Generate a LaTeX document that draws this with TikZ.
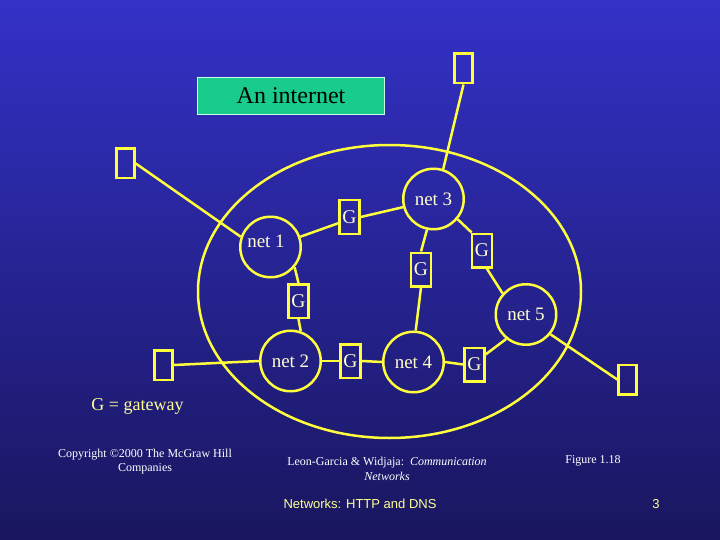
\documentclass[tikz,border=0pt]{standalone}
\usepackage{fontspec}
\setmainfont{Liberation Serif}
\newfontfamily\sansf{Liberation Sans}
\definecolor{bgtop}{RGB}{52,49,200}
\definecolor{bgmid}{RGB}{44,40,163}
\definecolor{bgbot}{RGB}{25,22,94}
\definecolor{ylw}{RGB}{255,255,60}
\definecolor{lbl}{RGB}{255,255,205}
\definecolor{paleylw}{RGB}{255,255,150}
\definecolor{titlegreen}{RGB}{25,204,140}
\definecolor{titleborder}{RGB}{200,255,230}
\begin{document}
\begin{tikzpicture}[x=1pt,y=-1pt,
  net/.style={circle, draw=ylw, line width=2.5pt, minimum size=60.5pt, inner sep=0pt,
    text=lbl, font=\fontsize{19}{22}\selectfont},
  gw/.style={rectangle, draw=ylw, line width=2.5pt, minimum width=20pt, minimum height=33.5pt,
    inner sep=0pt, text=lbl, font=\fontsize{19.5}{22}\selectfont},
  host/.style={rectangle, draw=ylw, line width=2.5pt, minimum width=18pt, minimum height=29.5pt, inner sep=0pt},
  link/.style={draw=ylw, line width=2.5pt},
  foot/.style={text=white, font=\fontsize{12}{14}\selectfont, inner sep=0pt},
  sfoot/.style={text=paleylw, font=\sansf\fontsize{13}{15}\selectfont, inner sep=0pt}]
\fill[top color=bgtop, middle color=bgmid, bottom color=bgbot] (0,0) rectangle (720,540);
\useasboundingbox (0,0) rectangle (720,540);

% title
\node[draw=titleborder, line width=0.8pt, fill=titlegreen, minimum width=187pt, minimum height=37pt,
  inner sep=0pt, font=\fontsize{24}{28}\selectfont, text=black] (title) at (291,96) {An internet};

% internet boundary
\draw[link] (389.5,291.5) ellipse [x radius=191.5, y radius=146.5];

% networks
\node[net, label={[text=lbl, font=\fontsize{19}{22}\selectfont, xshift=-4.5pt, yshift=6pt]center:net 1}] (n1) at (270.5,247) {};
\node[net] (n3) at (433.5,199) {net 3};
\node[net] (n2) at (290.5,361) {net 2};
\node[net] (n4) at (413.5,362) {net 4};
\node[net] (n5) at (526,314.5) {net 5};

% gateways
\node[gw] (g13) at (349.5,217) {G};
\node[gw] (g12) at (298.5,301) {G};
\node[gw] (g34) at (421,269.5) {G};
\node[gw] (g35) at (482,250.5) {G};
\node[gw] (g24) at (350.5,361) {G};
\node[gw] (g45) at (474.5,364.5) {G};

% hosts
\node[host] (h1) at (125.5,163.5) {};
\node[host] (h2) at (463.5,68.5) {};
\node[host] (h3) at (163.7,365) {};
\node[host] (h4) at (627.5,379.5) {};

% links
\draw[link] (n1.19) -- (g13.209);
\draw[link] (g13.east) -- (n3.195);
\draw[link] (n1.320) -- (g12.north);
\draw[link] (g12.south) -- (n2.71);
\draw[link] (n3.258) -- (g34.north);
\draw[link] (g34.south) -- (n4.86);
\draw[link] (n3.320) -- (g35.120);
\draw[link] (g35.285) -- (n5.138);
\draw[link] (n2.east) -- (g24.west);
\draw[link] (g24.east) -- (n4.west);
\draw[link] (n4.east) -- (g45.west);
\draw[link] (g45.42) -- (n5.231);
\draw[link] (h1.east) -- (n1.161);
\draw[link] (h2.south) -- (n3.72);
\draw[link] (h3.east) -- (n2.west);
\draw[link] (n5.321) -- (h4.west);

% legend and footer
\node[text=paleylw, font=\fontsize{18}{21}\selectfont, inner sep=0pt] (leg) at (137.5,406) {G = gateway};
\node[foot, align=center] (copy) at (145,462) {Copyright ©2000 The McGraw Hill\\Companies};
\node[foot, align=center, font=\fontsize{12}{15}\selectfont] (book) at (387,468.5) {Leon-Garcia \& Widjaja:\ \ \textit{Communication}\\\textit{Networks}};
\node[foot] (fig) at (593,461) {Figure 1.18};
\node[sfoot] (chap) at (360,504) {Networks: HTTP and DNS};
\node[sfoot] (page) at (656,504) {3};
\end{tikzpicture}
\end{document}
